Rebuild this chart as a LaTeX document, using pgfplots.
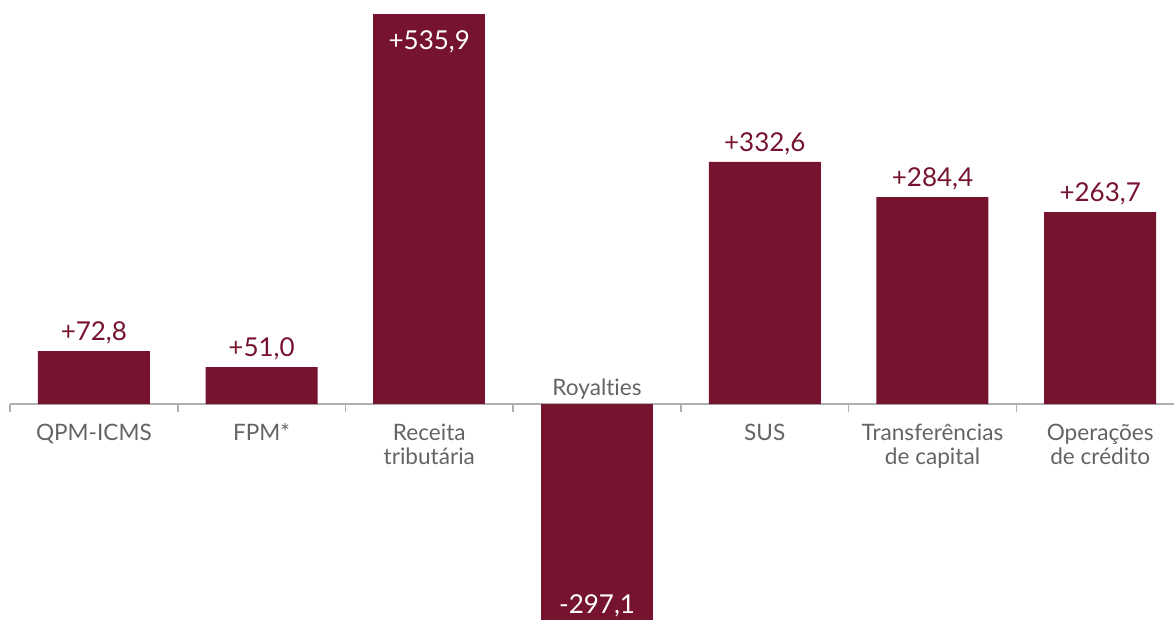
\documentclass[border=0pt]{standalone}
\usepackage{pgfplots}
\pgfplotsset{compat=1.18}
\usepackage{fontspec}
\setmainfont{Lato}[Ligatures=NoCommon]
\definecolor{barc}{RGB}{118,19,47}
\definecolor{labc}{RGB}{100,100,100}
\definecolor{axlc}{RGB}{175,175,175}
\begin{document}
\begin{tikzpicture}
\begin{axis}[
 scale only axis, width=582pt, height=305pt,
 xmin=-0.5, xmax=6.44, ymin=-302, ymax=535.9,
 axis x line=middle, axis y line=none,
 hide obscured x ticks=false,
 x axis line style={-, draw=axlc, line width=0.8pt},
 xtick={0,...,6},
 xticklabels={QPM-ICMS, FPM*, {Receita\\tributária}, {}, SUS, {Transferências\\de capital}, {Operações\\de crédito}},
 major x tick style={draw=none},
 minor xtick={-0.5,0.5,...,5.5},
 minor x tick style={draw=axlc, line width=0.8pt},
 minor tick length=4pt,
 tick align=outside,
 xticklabel style={align=center, font=\fontsize{11.3}{12.3}\selectfont, text=labc, yshift=-2pt},
 ytick=\empty,
 ybar, bar width=56pt, bar shift=0pt,
 clip=false,
]
\addplot[fill=barc, draw=none, nodes near coords, point meta=explicit symbolic,
  nodes near coords style={text=barc, font=\fontsize{13}{15}\selectfont}] table[meta=lab] {
x y lab
0 72.8 +72,8
1 51.0 +51,0
4 332.6 +332,6
5 284.4 +284,4
6 263.7 +263,7
};
\addplot[fill=barc, draw=none, nodes near coords, point meta=explicit symbolic,
  nodes near coords style={text=white, font=\fontsize{13}{15}\selectfont, anchor=north, yshift=-5pt}] table[meta=lab] {
x y lab
2 535.9 +535,9
};
\addplot[fill=barc, draw=none, nodes near coords, point meta=explicit symbolic,
  nodes near coords style={text=white, font=\fontsize{13}{15}\selectfont, anchor=south, yshift=-2pt}] table[meta=lab] {
x y lab
3 -297.1 -297,1
};
\node[anchor=south, text=labc, font=\fontsize{11.3}{12.3}\selectfont, inner sep=2pt] at (axis cs:3,0) {Royalties};
\end{axis}
\pgfresetboundingbox
\path ([xshift=-5pt,yshift=-0.5pt]current axis.south west) rectangle ([yshift=7pt]current axis.north east);
\end{tikzpicture}
\end{document}
